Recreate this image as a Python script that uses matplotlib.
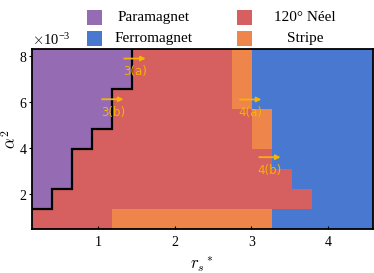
"""Phase diagram in (r_s*, alpha^2) plane, 4 phases on a regular grid."""

import matplotlib
matplotlib.use("Agg")
import matplotlib.pyplot as plt
import numpy as np
from matplotlib.colors import ListedColormap
from matplotlib.patches import Rectangle
from matplotlib.ticker import ScalarFormatter

plt.rcParams["font.family"] = ["Liberation Serif", "DejaVu Serif"]
plt.rcParams["mathtext.fontset"] = "cm"

# grid of computed points (cell centers)
rs = [0.262, 0.524, 0.785, 1.047, 1.309, 1.571, 1.833, 2.094, 2.356,
      2.618, 2.880, 3.142, 3.403, 3.665, 3.927, 4.189, 4.451]
alpha2 = [0.92e-3, 1.79e-3, 2.66e-3, 3.54e-3, 4.41e-3, 5.28e-3, 6.15e-3, 7.02e-3, 7.89e-3]

phase_names = ["Paramagnet", "120° Néel", "Stripe", "Ferromagnet"]
phase_colors = ["#956cb4", "#d65f5f", "#ee854a", "#4878d0"]

# 0 = para, 1 = neel, 2 = stripe, 3 = ferro ; rows from bottom (small alpha^2)
phase = [
    [1, 1, 1, 1, 2, 2, 2, 2, 2, 2, 2, 2, 3, 3, 3, 3, 3],
    [0, 1, 1, 1, 1, 1, 1, 1, 1, 1, 1, 1, 1, 1, 3, 3, 3],
    [0, 0, 1, 1, 1, 1, 1, 1, 1, 1, 1, 1, 1, 3, 3, 3, 3],
    [0, 0, 1, 1, 1, 1, 1, 1, 1, 1, 1, 1, 3, 3, 3, 3, 3],
    [0, 0, 0, 1, 1, 1, 1, 1, 1, 1, 1, 2, 3, 3, 3, 3, 3],
    [0, 0, 0, 0, 1, 1, 1, 1, 1, 1, 1, 2, 3, 3, 3, 3, 3],
    [0, 0, 0, 0, 1, 1, 1, 1, 1, 1, 2, 3, 3, 3, 3, 3, 3],
    [0, 0, 0, 0, 0, 1, 1, 1, 1, 1, 2, 3, 3, 3, 3, 3, 3],
    [0, 0, 0, 0, 0, 1, 1, 1, 1, 1, 2, 3, 3, 3, 3, 3, 3],
]

# arrows marking the cuts shown in other figures: (x_start, x_end, y, label)
arrow_labels = ["3(a)", "3(b)", "4(a)", "4(b)"]
arrow_x0 = [1.34, 1.05, 2.85, 3.10]
arrow_x1 = [1.62, 1.33, 3.13, 3.38]
arrow_y = [7.91e-3, 6.14e-3, 6.13e-3, 3.62e-3]
ARROW_C = "#f5b400"


def cell_edges(c):
    c = np.asarray(c)
    mid = (c[1:] + c[:-1]) / 2
    return np.concatenate([[c[0] - (mid[0] - c[0])], mid, [c[-1] + (c[-1] - mid[-1])]])


W, H = 374, 273
fig = plt.figure(figsize=(W / 100, H / 100), dpi=100)
ax = fig.add_axes([31.7 / W, 1 - 229.3 / H, 341 / W, 180.3 / H])

P = np.array(phase)
ax.pcolormesh(rs, alpha2, P, cmap=ListedColormap(phase_colors), vmin=-0.5, vmax=3.5,
              shading="nearest")

# black line around the paramagnetic region
xe, ye = cell_edges(rs), cell_edges(alpha2)
n_para = (P == 0).sum(axis=1)
bx, by = [], []
for i, n in enumerate(n_para):
    if n == 0:
        continue
    bx += [xe[n], xe[n]]
    by += [ye[i], ye[i + 1]]
bx = [xe[0]] + bx
by = [by[0]] + by
ax.plot(bx, by, color="k", lw=1.6, solid_joinstyle="miter", zorder=3)

for lab, x0, x1, y in zip(arrow_labels, arrow_x0, arrow_x1, arrow_y):
    ax.annotate("", xy=(x1, y), xytext=(x0, y),
                arrowprops=dict(arrowstyle="-|>", color=ARROW_C, lw=1.3, mutation_scale=7,
                                shrinkA=0, shrinkB=0))
    ax.text((x0 + x1) / 2, y - 0.3e-3, lab, color=ARROW_C, ha="center", va="top",
            fontsize=8.5, family="DejaVu Sans")

ax.set_xlim(xe[0], xe[-1])
ax.set_ylim(ye[0], ye[-1])
ax.set_xticks([1, 2, 3, 4])
ax.set_yticks([2e-3, 4e-3, 6e-3, 8e-3])
fmt = ScalarFormatter(useMathText=True)
fmt.set_powerlimits((0, 0))
ax.yaxis.set_major_formatter(fmt)
ax.yaxis.get_offset_text().set_fontsize(10.5)
ax.tick_params(axis="x", direction="in", length=2.5, labelsize=10, pad=5)
ax.tick_params(axis="y", direction="out", length=2, labelsize=10, pad=1)
for lbl in ax.get_xticklabels() + ax.get_yticklabels():
    lbl.set_family("Liberation Serif")
for s in ax.spines.values():
    s.set_linewidth(1.3)
ax.set_xlabel(r"$r_s{}^*$", fontsize=12, labelpad=4)
ax.set_ylabel(r"$\alpha^2$", fontsize=12)
ax.yaxis.set_label_coords(-0.033, 0.5)

# legend drawn by hand: square patch + centered label, 2x2
leg_order = [0, 3, 1, 2]
patch_x = [87, 87, 237, 237]
text_x = [154, 154, 305, 305]
row_y = [17.5, 38.5, 17.5, 38.5]
for k, idx in enumerate(leg_order):
    fig.add_artist(Rectangle((patch_x[k] / W, 1 - (row_y[k] + 7.5) / H), 15 / W, 15 / H,
                             transform=fig.transFigure, color=phase_colors[idx], lw=0))
    fig.text(text_x[k] / W, 1 - row_y[k] / H, phase_names[idx], ha="center", va="center",
             fontsize=11)

fig.savefig("out.png", dpi=100)
